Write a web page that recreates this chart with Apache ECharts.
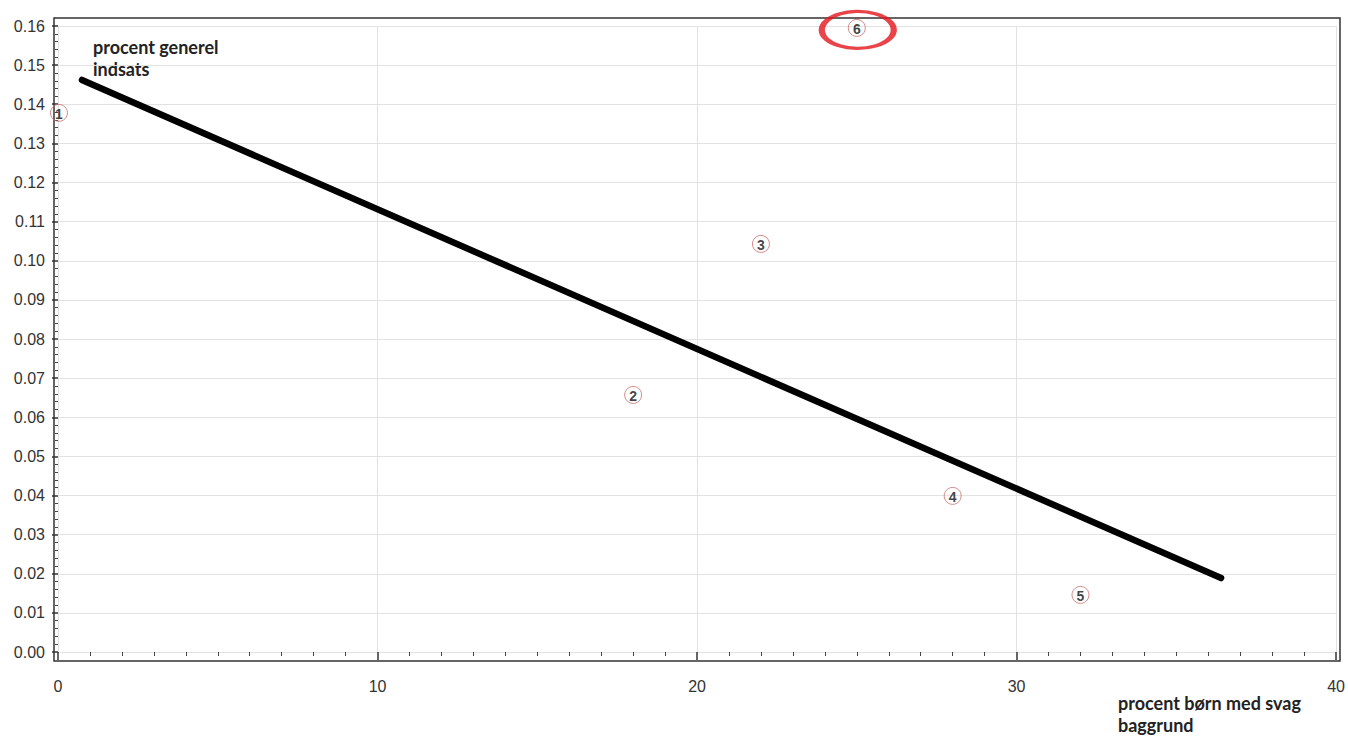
<!DOCTYPE html>
<html>
<head>
<meta charset="utf-8">
<script src="https://cdn.jsdelivr.net/npm/echarts@6/dist/echarts.min.js"></script>
<style>
html,body{margin:0;padding:0;background:#fff;}
#c{width:1348px;height:738px;}
</style>
</head>
<body>
<div id="c"></div>
<script>
// Data
const pointLabels = ['1', '2', '3', '4', '5', '6'];
const pointX = [0.03, 18.0, 22.0, 28.0, 32.0, 25.0];
const pointY = [0.1378, 0.0657, 0.1043, 0.0399, 0.0146, 0.1595];
const trendX = [0.75, 36.4];
const trendY = [0.1462, 0.0189];
const highlight = [[25.03, 0.159]];
const xTicks = [0, 10, 20, 30, 40];
const yTicks = [0, 0.01, 0.02, 0.03, 0.04, 0.05, 0.06, 0.07, 0.08, 0.09, 0.10, 0.11, 0.12, 0.13, 0.14, 0.15, 0.16];
const annotationText = 'procent generel\nindsats';
const xAxisTitle = 'procent børn med svag\nbaggrund';

const chart = echarts.init(document.getElementById('c'), null, {renderer: 'svg'});
const labelFont = {fontFamily: 'Liberation Sans', fontSize: 16, color: '#333'};

const option = {
  backgroundColor: '#fff',
  animation: false,
  grid: [
    {left: 54, right: 8, top: 18, bottom: 77, show: true, borderColor: '#333', borderWidth: 1.5, backgroundColor: 'transparent'},
    {left: 58, right: 10, top: 26, bottom: 86}
  ],
  xAxis: [
    {gridIndex: 0, type: 'value', min: -0.125, max: 40.0625, show: false},
    {gridIndex: 1, type: 'value', min: xTicks[0], max: xTicks[xTicks.length - 1], interval: 10, offset: 9,
     axisLine: {show: false},
     axisTick: {show: true, length: 8, lineStyle: {color: '#333', width: 1.5}},
     minorTick: {show: true, splitNumber: 10, length: 4, lineStyle: {color: '#444'}},
     axisLabel: Object.assign({margin: 17}, labelFont),
     splitLine: {show: true, lineStyle: {color: '#e2e2e2', width: 1}}}
  ],
  yAxis: [
    {gridIndex: 0, type: 'value', min: -0.0023, max: 0.162, show: false},
    {gridIndex: 1, type: 'value', min: yTicks[0], max: yTicks[yTicks.length - 1], interval: 0.01, offset: 4,
     axisLine: {show: false},
     axisTick: {show: true, length: 6, lineStyle: {color: '#333', width: 1.5}},
     minorTick: {show: true, splitNumber: 5, length: 3, lineStyle: {color: '#444'}},
     axisLabel: Object.assign({margin: 9, formatter: v => v.toFixed(2)}, labelFont),
     splitLine: {show: true, lineStyle: {color: '#e2e2e2', width: 1}}}
  ],
  series: [
    {
      type: 'line', xAxisIndex: 1, yAxisIndex: 1, clip: false,
      data: trendX.map((x, i) => [x, trendY[i]]),
      symbol: 'none',
      lineStyle: {color: '#000', width: 6.5, cap: 'round'},
      z: 3
    },
    {
      type: 'scatter', xAxisIndex: 1, yAxisIndex: 1, clip: false,
      data: pointX.map((x, i) => ({value: [x, pointY[i]], name: pointLabels[i]})),
      symbol: 'circle', symbolSize: 17,
      itemStyle: {color: 'rgba(255,255,255,0)', borderColor: '#c9706d', borderWidth: 1},
      label: {show: true, position: 'inside', formatter: p => p.name,
              fontFamily: 'Liberation Sans', fontWeight: 'bold', fontSize: 14, color: '#111', offset: [0, 1]},
      z: 4
    },
    {
      type: 'scatter', xAxisIndex: 1, yAxisIndex: 1, clip: false,
      data: highlight,
      symbol: 'circle', symbolSize: [72, 37],
      itemStyle: {color: 'rgba(255,255,255,0)', borderColor: '#e3151c', borderWidth: 4.5},
      z: 5, silent: true
    }
  ],
  graphic: [
    {type: 'text', left: 93, top: 36,
     style: {text: annotationText, font: 'bold 18px Lato', fill: '#222', lineHeight: 22}},
    {type: 'text', left: 1118, top: 692,
     style: {text: xAxisTitle, font: 'bold 18px Lato', fill: '#222', lineHeight: 22}}
  ]
};
chart.setOption(option);
</script>
</body>
</html>
